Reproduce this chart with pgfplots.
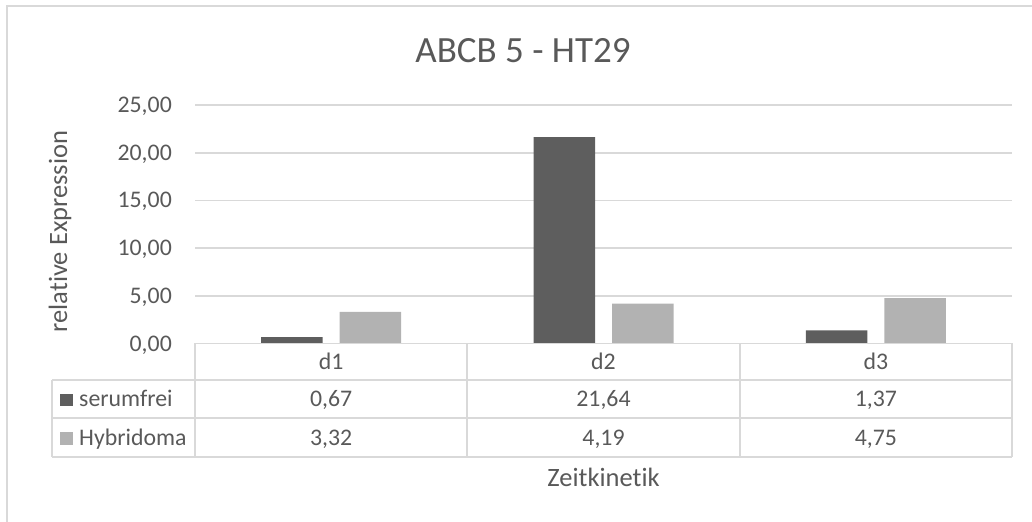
\documentclass[border=0pt]{standalone}
\usepackage{pgfplots}
\usepackage{pgfplotstable}
\usepackage{fontspec}
\pgfplotsset{compat=1.18}
\setmainfont[Ligatures=NoCommon]{Carlito}

\definecolor{txtgray}{HTML}{595959}
\definecolor{linegray}{HTML}{D9D9D9}
\definecolor{darkbar}{HTML}{5E5E5E}
\definecolor{lightbar}{HTML}{B2B2B2}

\newcommand{\ticksize}{\fontsize{23.8bp}{28bp}\selectfont}
\newcommand{\labelsize}{\fontsize{26.5bp}{31bp}\selectfont}
\newcommand{\titlesize}{\fontsize{37bp}{44bp}\selectfont}

% relative expression per time point
\pgfplotstableread{
x cat serumfrei Hybridoma
0 d1 0.67 3.32
1 d2 21.64 4.19
2 d3 1.37 4.75
}\datatable

\pgfkeys{/pgf/number format/.cd, use comma, fixed, fixed zerofill, precision=2, assume math mode=true}

\begin{document}
\begin{tikzpicture}[x=1bp, y=1bp]
\path[use as bounding box] (0,0) rectangle (1032,-522);

% chart area frame
\draw[linegray, line width=2bp] (7,-522) -- (7,-6) -- (1032,-6);

\begin{axis}[
  at={(195bp,-343.5bp)}, anchor=south west,
  scale only axis, width=817bp, height=238.5bp,
  xmin=-0.5, xmax=2.5, ymin=0, ymax=25,
  xtick=\empty, ytick={0,5,...,25},
  ymajorgrids, grid style={linegray, line width=1.8bp},
  axis line style={draw=none}, tick style={draw=none},
  yticklabel style={font=\ticksize, text=txtgray, anchor=base east, inner sep=0pt, xshift=-23bp, yshift=-7.5bp},
  ybar=17bp, bar width=61.5bp,
  clip=false,
]
\addplot[fill=darkbar, draw=none] table[x=x, y=serumfrei] {\datatable};
\addplot[fill=lightbar, draw=none] table[x=x, y=Hybridoma] {\datatable};
\end{axis}

% title and axis titles
\node[font=\titlesize, text=txtgray, anchor=base] at (523,-63) {ABCB 5 - HT29};
\node[font=\labelsize, text=txtgray, anchor=base, rotate=90] at (67,-231.5) {relative Expression};
\node[font=\labelsize, text=txtgray, anchor=base] at (603.5,-486) {Zeitkinetik};

% data table grid
\begin{scope}[linegray, line width=1.8bp]
  \draw (195,-343.5) -- (1012,-343.5);
  \draw (52,-380) -- (1012,-380);
  \draw (52,-418) -- (1012,-418);
  \draw (52,-457) -- (1012,-457);
  \draw (52,-380) -- (52,-457);
  \foreach \cx in {195,467.33,739.67,1012} \draw (\cx,-343.5) -- (\cx,-457);
\end{scope}

% legend keys of the table rows
\fill[darkbar] (60,-393.5) rectangle (72.7,-406.2);
\node[font=\ticksize, text=txtgray, anchor=base west, inner sep=0pt] at (79,-406.5) {serumfrei};
\fill[lightbar] (60,-432) rectangle (72.7,-444.7);
\node[font=\ticksize, text=txtgray, anchor=base west, inner sep=0pt] at (79,-445) {Hybridoma};

% category names and values
\foreach \i in {0,1,2} {
  \pgfmathsetmacro{\cx}{195+272.333*(\i+0.5)}
  \pgfplotstablegetelem{\i}{cat}\of\datatable
  \node[font=\ticksize, text=txtgray, anchor=base, inner sep=0pt] at (\cx,-370) {\pgfplotsretval};
  \pgfplotstablegetelem{\i}{serumfrei}\of\datatable
  \node[font=\ticksize, text=txtgray, anchor=base, inner sep=0pt] at (\cx,-406.5) {\pgfmathprintnumber{\pgfplotsretval}};
  \pgfplotstablegetelem{\i}{Hybridoma}\of\datatable
  \node[font=\ticksize, text=txtgray, anchor=base, inner sep=0pt] at (\cx,-445) {\pgfmathprintnumber{\pgfplotsretval}};
}
\end{tikzpicture}
\end{document}
